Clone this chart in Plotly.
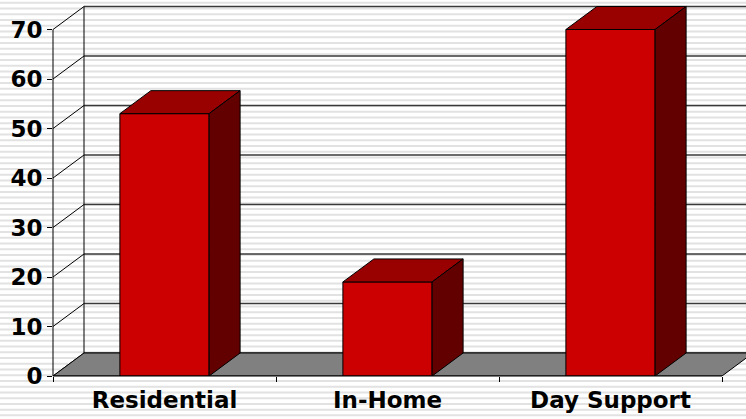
import plotly.graph_objects as go

# ---- data ----
categories = ["Residential", "In-Home", "Day Support"]
values = [53, 19, 70]
y_ticks = [0, 10, 20, 30, 40, 50, 60, 70]

# ---- geometry / style ----
W, H = 746, 419
ML, MB = 53, 43
PW, PH = W - ML, H - MB
cat_px = 223.0               # pixels per category
x_min = -0.5
x_max = x_min + PW / cat_px
y_max = 75.96
px_per_unit = PH / y_max
DX = 31 / cat_px             # depth offset in x data units
DY = 23 / px_per_unit        # depth offset in y data units
HW = 0.2                     # half bar width (category units)

FRONT = "#CC0000"
TOP = "#990000"
SIDE = "#620000"
FLOOR = "#808080"
GRID = "#3a3a3a"
FONT = dict(family="DejaVu Sans", size=23, color="black", weight="bold")

fig = go.Figure()


def poly(xs, ys, fill, lw=1, lc="black"):
    fig.add_trace(go.Scatter(
        x=list(xs) + [xs[0]], y=list(ys) + [ys[0]], mode="lines", fill="toself",
        fillcolor=fill, line=dict(color=lc, width=lw), hoverinfo="skip",
        showlegend=False))


def line(xs, ys, color, width):
    fig.add_trace(go.Scatter(x=xs, y=ys, mode="lines",
                             line=dict(color=color, width=width),
                             hoverinfo="skip", showlegend=False))


# back wall gridlines
for v in y_ticks:
    line([x_min + DX, x_max + 1], [v + DY, v + DY], GRID, 1.6)
# back wall left edge
line([x_min + DX, x_min + DX], [DY, y_ticks[-1] + DY], "black", 1)
# left wall diagonals
for v in y_ticks:
    line([x_min, x_min + DX], [v, v + DY], "black", 1)

# floor
n = len(categories)
poly([x_min, x_min + n, x_min + n + DX, x_min + DX], [0, 0, DY, DY], FLOOR)

# bars
for i, val in enumerate(values):
    l, r = i - HW, i + HW
    poly([l, r, r, l], [0, 0, val, val], FRONT)
    poly([l, r, r + DX, l + DX], [val, val, val + DY, val + DY], TOP)
    poly([r, r + DX, r + DX, r], [0, DY, val + DY, val], SIDE)

# background stripes
stripe_period = 5.73
y0 = 2.8
segs = []
yy = y0
while yy < H:
    py = (PH - yy) / PH
    segs.append(f"M {-ML / PW},{py} L 1,{py}")
    yy += stripe_period
shapes = [dict(type="path", xref="paper", yref="paper", path=" ".join(segs),
               line=dict(color="#e2e2e2", width=2), layer="below")]
# front axis lines
shapes.append(dict(type="line", xref="paper", yref="y", x0=0, x1=0, y0=0,
                   y1=y_ticks[-1], line=dict(color="black", width=1), layer="above"))
shapes.append(dict(type="line", xref="x", yref="paper", x0=x_min, x1=x_min + n,
                   y0=0, y1=0, line=dict(color="black", width=1), layer="above"))

fig.update_layout(
    width=W, height=H,
    margin=dict(l=ML, r=0, t=0, b=MB),
    paper_bgcolor="white", plot_bgcolor="rgba(0,0,0,0)",
    shapes=shapes,
    showlegend=False,
    xaxis=dict(range=[x_min, x_max], showgrid=False, zeroline=False,
               showline=False, tickvals=list(range(n)), ticktext=categories,
               ticks="", tickfont=FONT, fixedrange=True, ticklabelstandoff=8,
               minor=dict(tickvals=[x_min + k for k in range(n + 1)],
                          ticks="outside", ticklen=5, tickcolor="black",
                          tickwidth=1, showgrid=False)),
    yaxis=dict(range=[0, y_max], showgrid=False, zeroline=False,
               showline=False, tickvals=y_ticks, ticks="outside", ticklen=5,
               tickcolor="black", tickfont=FONT, fixedrange=True),
)

fig.write_html("out.html", config={"displayModeBar": False},
               post_script="document.body.style.margin='0';document.body.style.overflow='hidden';")
